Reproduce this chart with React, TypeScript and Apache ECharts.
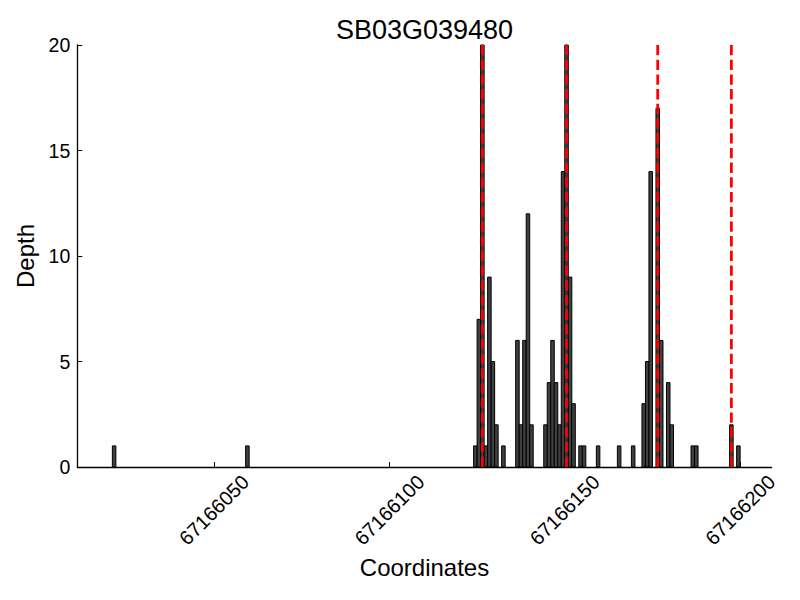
import React, { useEffect, useRef } from "react";
import * as echarts from "echarts";

const TITLE = "SB03G039480";
const X_NAME = "Coordinates";
const Y_NAME = "Depth";

// bar start coordinates (each bar spans one base) and their depths
const positions = [
  67166021, 67166059,
  67166124, 67166125, 67166126, 67166127, 67166128, 67166129, 67166130, 67166132,
  67166136, 67166137, 67166138, 67166139, 67166140,
  67166144, 67166145, 67166146, 67166147, 67166148, 67166149, 67166150, 67166151, 67166152,
  67166154, 67166155,
  67166159, 67166165, 67166169,
  67166172, 67166173, 67166174, 67166176, 67166177, 67166179, 67166180,
  67166186, 67166187,
  67166197, 67166199,
];
const depths = [
  1, 1,
  1, 7, 20, 1, 9, 5, 2, 1,
  6, 2, 6, 12, 2,
  2, 4, 6, 4, 2, 14, 20, 9, 3,
  1, 1,
  1, 1, 1,
  3, 5, 14, 17, 6, 4, 2,
  1, 1,
  2, 1,
];

// red dashed marker positions
const markers = [67166126.5, 67166150.5, 67166176.5, 67166197.5];

const xTicks = [67166050, 67166100, 67166150, 67166200];
const X_MIN = 67166011;
const X_MAX = 67166209;
const yTicks = [0, 5, 10, 15, 20];

const FONT = "'Liberation Sans', Arial, Helvetica, sans-serif";

export default function App() {
  const ref = useRef<HTMLDivElement>(null);

  useEffect(() => {
    if (!ref.current) return;
    const chart = echarts.init(ref.current, undefined, { renderer: "svg" });

    const barData = positions.map((p, i) => [p, depths[i]]);

    const markerSeries = markers.map((m) => ({
      type: "line",
      data: [
        [m, yTicks[yTicks.length - 1]],
        [m, yTicks[0]],
      ],
      symbol: "none",
      z: 5,
      silent: true,
      lineStyle: { color: "#ff0000", width: 2.8, type: [10.3, 4.4] },
    }));

    chart.setOption({
      animation: false,
      backgroundColor: "#ffffff",
      textStyle: { fontFamily: FONT },
      grid: {
        left: 77.3,
        right: 28.3,
        top: 45,
        bottom: 133,
        containLabel: false,
        outerBoundsMode: "none",
      },
      graphic: [
        {
          type: "text",
          x: 424.5,
          y: 30,
          style: {
            text: TITLE,
            font: `27px ${FONT}`,
            fill: "#000",
            align: "center",
            verticalAlign: "middle",
          },
        },
      ],
      xAxis: {
        type: "value",
        min: X_MIN,
        max: X_MAX,
        name: X_NAME,
        nameLocation: "middle",
        nameGap: 88,
        nameTextStyle: { fontSize: 24, color: "#000", fontFamily: FONT },
        axisLine: { show: true, lineStyle: { color: "#000", width: 1.3 } },
        axisTick: {
          show: true,
          inside: true,
          length: 5,
          customValues: xTicks,
          lineStyle: { color: "#000", width: 1 },
        },
        axisLabel: {
          customValues: xTicks,
          rotate: 45,
          align: "center",
          verticalAlign: "middle",
          margin: 43,
          fontSize: 20,
          color: "#000",
          fontFamily: FONT,
          formatter: (v: number) => String(v),
        },
        splitLine: { show: false },
      },
      yAxis: {
        type: "value",
        min: 0,
        max: 20,
        interval: 5,
        name: Y_NAME,
        nameLocation: "middle",
        nameGap: 40,
        nameTextStyle: { fontSize: 24, color: "#000", fontFamily: FONT },
        axisLine: { show: true, lineStyle: { color: "#000", width: 1.3 } },
        axisTick: { show: true, inside: true, length: 5, lineStyle: { color: "#000", width: 1 } },
        axisLabel: { margin: 7, fontSize: 19.5, color: "#000", fontFamily: FONT },
        splitLine: { show: false },
      },
      series: [
        {
          type: "custom",
          data: barData,
          z: 2,
          renderItem: (params: any, api: any) => {
            const x0 = api.value(0);
            const v = api.value(1);
            const a = api.coord([x0, v]);
            const b = api.coord([x0 + 1, 0]);
            return {
              type: "rect",
              shape: { x: a[0], y: a[1], width: b[0] - a[0], height: b[1] - a[1] },
              style: { fill: "#404040", stroke: "#000", lineWidth: 1 },
            };
          },
        },
        ...markerSeries,
      ],
    });

    return () => chart.dispose();
  }, []);

  return (
    <div
      ref={ref}
      style={{ position: "fixed", left: 0, top: 0, width: 800, height: 600, background: "#fff" }}
    />
  );
}
